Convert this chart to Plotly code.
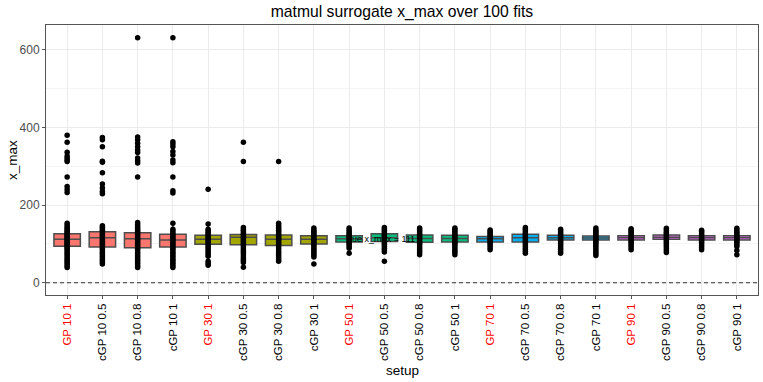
import plotly.graph_objects as go

# Categories (setup) and which family they belong to
SETUPS = ["GP 10 1", "cGP 10 0.5", "cGP 10 0.8", "cGP 10 1",
          "GP 30 1", "cGP 30 0.5", "cGP 30 0.8", "cGP 30 1",
          "GP 50 1", "cGP 50 0.5", "cGP 50 0.8", "cGP 50 1",
          "GP 70 1", "cGP 70 0.5", "cGP 70 0.8", "cGP 70 1",
          "GP 90 1", "cGP 90 0.5", "cGP 90 0.8", "cGP 90 1"]
GROUP_COLORS = ["#F8766D", "#A3A500", "#00BF7D", "#00B0F6", "#E76BF3"]

# Box statistics
Q1 = [94, 92, 90, 92, 99, 98, 96, 100, 105, 106, 104, 105, 105, 105, 110, 110, 110, 112, 110, 110]
MEDIAN = [112, 116, 113, 110, 112, 117, 112, 112, 113, 116, 114, 114, 113, 116, 116, 115, 116, 117, 116, 116]
Q3 = [126, 131, 129, 125, 122, 124, 123, 121, 121, 126, 123, 122, 119, 125, 122, 120, 121, 123, 121, 121]
LOWER = [39, 48, 39, 39, 67, 52, 55, 66, 89, 79, 72, 72, 85, 76, 76, 70, 85, 78, 85, 93]
UPPER = [153, 147, 155, 153, 151, 142, 153, 141, 141, 142, 141, 141, 136, 142, 138, 141, 139, 140, 135, 140]

# Individual fits (x_max values) per setup
gp10_1 = [39, 44, 48, 53, 57, 62, 66, 71, 75, 80, 84, 88, 92, 95, 98, 101, 104, 107, 110, 113,
          116, 119, 122, 125, 128, 131, 135, 139, 143, 148, 153,
          232, 240, 248, 272, 312, 316, 321, 326, 336, 362, 380]
cgp10_05 = [48, 52, 57, 61, 66, 70, 75, 79, 84, 88, 92, 95, 99, 103, 107, 111, 115, 119, 123,
            127, 131, 135, 139, 143, 147, 229, 235, 244, 254, 283, 310, 313, 350, 368, 374]
cgp10_08 = [39, 43, 48, 52, 57, 61, 66, 70, 75, 79, 84, 88, 92, 96, 100, 104, 108, 112, 116,
            120, 124, 128, 132, 136, 140, 145, 150, 155,
            272, 308, 314, 321, 335, 342, 350, 359, 368, 375, 631]
cgp10_1 = [39, 43, 48, 52, 57, 61, 66, 70, 75, 79, 84, 88, 92, 96, 100, 104, 108, 112, 116,
           120, 124, 128, 133, 138, 153, 231, 237, 272, 309, 316, 329, 338, 350, 357, 363, 631]
gp30_1 = [45, 50, 55, 68, 73, 78, 83, 88, 93, 98, 102, 106, 110, 114, 118, 122, 126, 130,
          134, 138, 151, 241]
cgp30_05 = [40, 52, 57, 62, 67, 72, 77, 82, 87, 92, 97, 101, 105, 109, 113, 117, 121, 125,
            129, 133, 137, 142, 312, 362]
cgp30_08 = [55, 60, 65, 70, 75, 80, 85, 90, 95, 99, 103, 107, 111, 115, 119, 123, 127, 131,
            135, 139, 143, 148, 153, 312]
cgp30_1 = [48, 66, 71, 76, 81, 86, 91, 96, 100, 104, 108, 112, 116, 120, 124, 128, 132, 136, 141]
gp50_1 = [76, 89, 94, 99, 103, 107, 111, 115, 119, 123, 127, 131, 136, 141]
cgp50_05 = [55, 79, 84, 89, 94, 99, 103, 107, 111, 115, 119, 123, 127, 131, 135, 139, 142]
cgp50_08 = [72, 77, 82, 87, 92, 97, 101, 105, 109, 113, 117, 121, 125, 129, 133, 137, 141]
cgp50_1 = [72, 77, 82, 87, 92, 97, 101, 105, 109, 113, 117, 121, 125, 129, 133, 137, 141]
gp70_1 = [85, 90, 95, 100, 104, 108, 112, 116, 120, 124, 128, 132, 136]
cgp70_05 = [76, 81, 86, 91, 96, 101, 105, 109, 113, 117, 121, 125, 129, 133, 138, 142]
cgp70_08 = [76, 81, 86, 91, 96, 101, 105, 109, 113, 117, 121, 125, 129, 133, 138]
cgp70_1 = [70, 75, 80, 85, 90, 95, 100, 104, 108, 112, 116, 120, 124, 128, 132, 136, 141]
gp90_1 = [85, 90, 95, 100, 104, 108, 112, 116, 120, 124, 128, 132, 136, 139]
cgp90_05 = [78, 83, 88, 93, 98, 102, 106, 110, 114, 118, 122, 126, 130, 135, 140]
cgp90_08 = [85, 90, 95, 100, 104, 108, 112, 116, 120, 124, 128, 132, 135]
cgp90_1 = [72, 83, 93, 98, 102, 106, 110, 114, 118, 122, 126, 130, 135, 140]

FITS = [gp10_1, cgp10_05, cgp10_08, cgp10_1, gp30_1, cgp30_05, cgp30_08, cgp30_1,
        gp50_1, cgp50_05, cgp50_08, cgp50_1, gp70_1, cgp70_05, cgp70_08, cgp70_1,
        gp90_1, cgp90_05, cgp90_08, cgp90_1]

TRUE_X_MAX = 111

fig = go.Figure()

# Label sits underneath the boxes, like in the original
fig.add_trace(go.Scatter(
    x=[8.9], y=[TRUE_X_MAX], mode="text",
    text=[f"true x_max = {TRUE_X_MAX}"],
    textfont=dict(size=9, color="black"),
    showlegend=False, hoverinfo="skip"))

# Boxes
for i, name in enumerate(SETUPS):
    fig.add_trace(go.Box(
        x=[i], q1=[Q1[i]], median=[MEDIAN[i]], q3=[Q3[i]],
        lowerfence=[LOWER[i]], upperfence=[UPPER[i]],
        boxpoints=False, width=0.75, whiskerwidth=0,
        fillcolor=GROUP_COLORS[i // 4],
        line=dict(color="#4d4d4d", width=1.5),
        name=name, showlegend=False))

# All fitted points
xs, ys = [], []
for i, vals in enumerate(FITS):
    xs += [i] * len(vals)
    ys += vals
fig.add_trace(go.Scatter(
    x=xs, y=ys, mode="markers",
    marker=dict(color="black", size=5.5),
    showlegend=False))

# Dashed zero line
fig.add_shape(type="line", xref="paper", x0=0, x1=1, yref="y", y0=0, y1=0,
              line=dict(color="#333333", width=1.2, dash="4px,3px"), layer="above")

tick_text = [f'<span style="color:red">{s}</span>' if s.startswith("GP") else s
             for s in SETUPS]

# Axis titles as annotations so they sit exactly where the reference has them
fig.add_annotation(text="setup", xref="paper", yref="paper", x=0.5, y=-75 / 270,
                   yanchor="middle", showarrow=False, font=dict(size=13.5, color="black"))
fig.add_annotation(text="x_max", xref="paper", yref="paper", x=-34 / 712, y=0.5,
                   textangle=-90, xanchor="center", showarrow=False,
                   font=dict(size=13.5, color="black"))

fig.update_layout(
    width=763, height=382,
    margin=dict(l=46, r=5, t=25, b=87, autoexpand=False),
    plot_bgcolor="white", paper_bgcolor="white",
    font=dict(family="Liberation Sans", size=12, color="black"),
    title=dict(text="matmul surrogate x_max over 100 fits", x=0.5, xref="paper",
               y=1 - 12 / 382, yref="container", yanchor="middle",
               font=dict(size=15.7, color="black")),
    xaxis=dict(range=[-0.6, 19.6], tickmode="array", tickvals=list(range(20)),
               ticktext=tick_text, tickangle=-90, tickfont=dict(size=11.5, color="black"),
               showgrid=True, gridcolor="#EBEBEB", gridwidth=1, zeroline=False,
               showline=True, linecolor="#555555", linewidth=1, mirror=True,
               ticks="outside", ticklen=3, tickcolor="#555555", automargin=False),
    yaxis=dict(range=[-31.6, 663.6], tickvals=[0, 200, 400, 600],
               tickfont=dict(size=12, color="#4d4d4d"),
               showgrid=True, gridcolor="#EBEBEB", gridwidth=1, zeroline=False,
               minor=dict(tickvals=[100, 300, 500], showgrid=True,
                          gridcolor="#F4F4F4", gridwidth=0.7, ticks=""),
               showline=True, linecolor="#555555", linewidth=1, mirror=True,
               ticks="outside", ticklen=3, tickcolor="#555555", automargin=False),
)

# The page's default body margin would push the figure off its 763x382 frame
fig.write_html("out.html", config={"displayModeBar": False},
               post_script="document.body.style.margin='0';")
